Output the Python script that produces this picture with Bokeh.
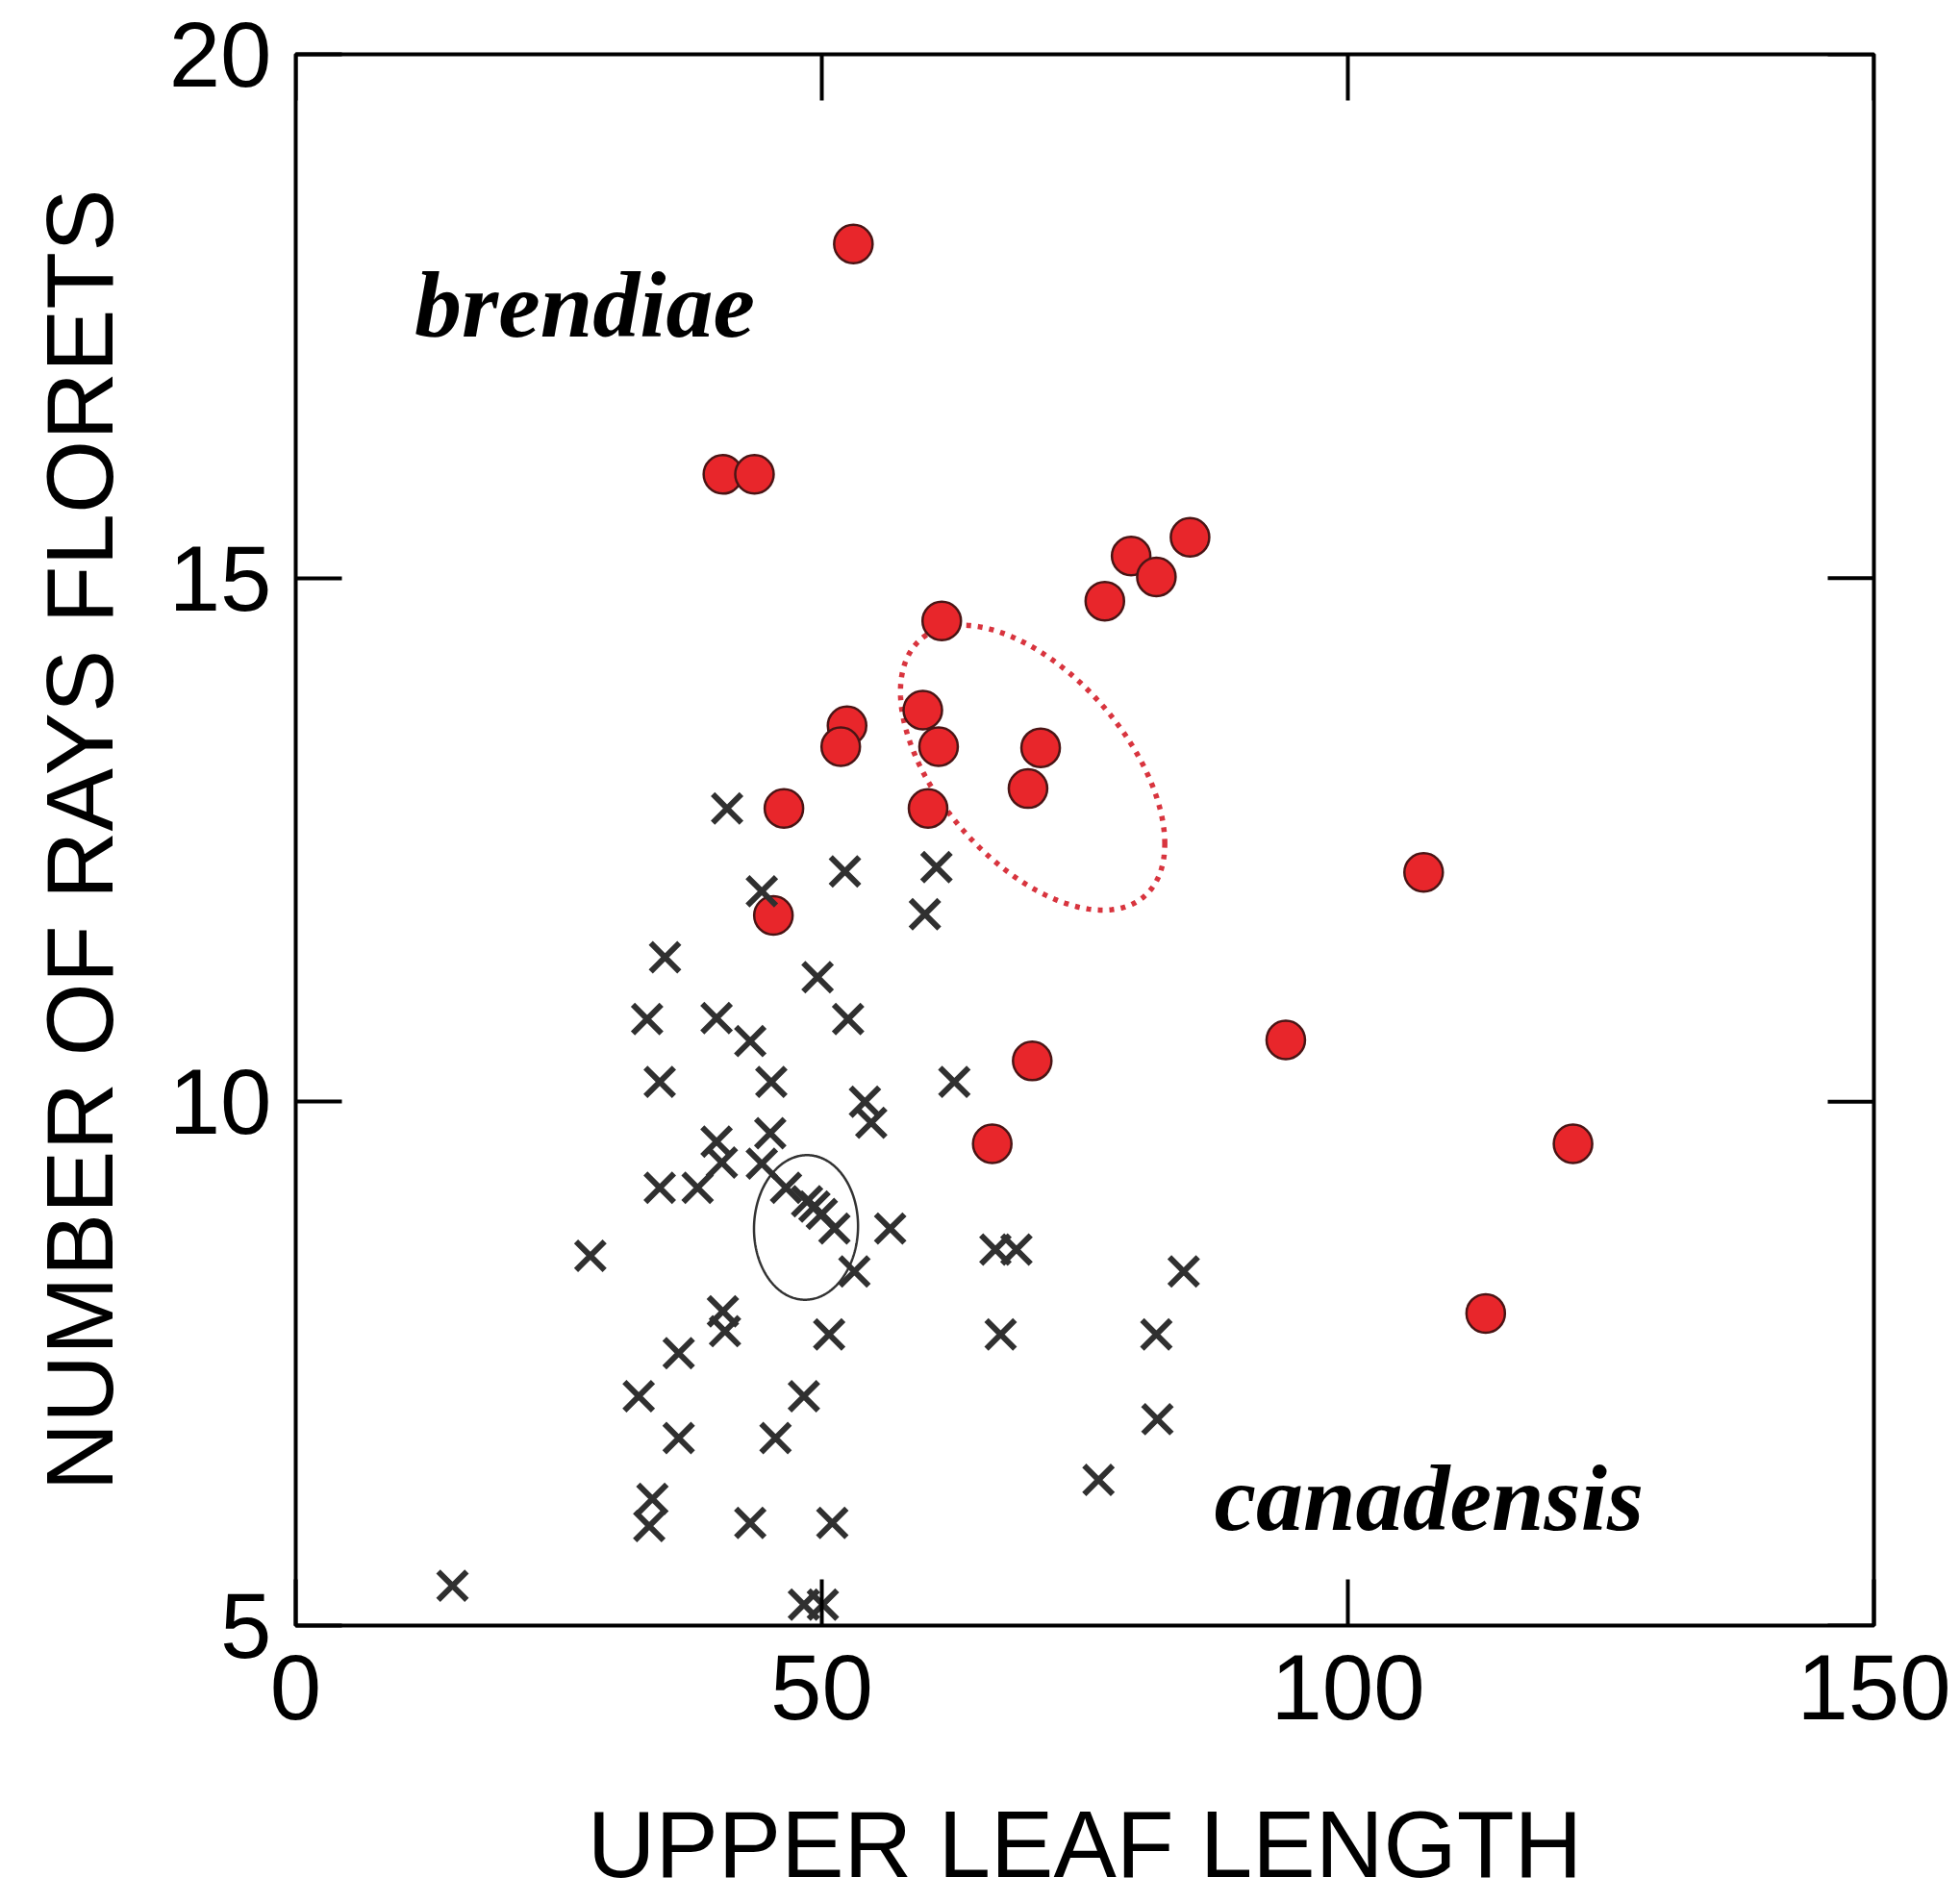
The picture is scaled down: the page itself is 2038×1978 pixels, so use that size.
import numpy as np
from bokeh.plotting import figure
from bokeh.models import Range1d, FixedTicker, Label
from bokeh.embed import file_html
from bokeh.resources import INLINE

# --- data: var. brendiae (red circles) ---
brendiae_x = [53.0, 40.6, 43.6, 85.0, 79.4, 81.8, 76.9, 61.4, 59.6, 52.4, 51.8, 61.1,
              70.8, 69.6, 60.1, 46.4, 107.2, 45.4, 94.1, 70.0, 66.2, 121.4, 113.1]
brendiae_y = [18.19, 15.99, 15.99, 15.39, 15.21, 15.01, 14.78, 14.59, 13.74, 13.59, 13.39, 13.39,
              13.38, 12.99, 12.80, 12.80, 12.19, 11.78, 10.59, 10.39, 9.60, 9.60, 7.98]

# --- data: var. canadensis (crosses) ---
canadensis_x = [41.0, 52.2, 60.9, 44.3, 59.8, 35.1, 49.6, 33.4, 40.0, 52.5,
                43.2, 34.6, 45.2, 62.6, 54.1, 54.7, 40.0, 40.5, 45.1, 44.3,
                34.6, 38.2, 46.6, 48.6, 49.3, 50.0, 51.2, 53.1, 56.5, 28.0,
                40.6, 40.8, 50.7, 36.4, 32.6, 48.3, 36.4, 45.6, 33.9, 33.6,
                43.2, 51.0, 14.9, 48.3, 50.1, 66.5, 68.5, 84.4, 67.0, 81.8,
                81.9, 76.3]
canadensis_y = [12.80, 12.20, 12.24, 12.01, 11.79, 11.38, 11.19, 10.79, 10.80, 10.79,
                10.58, 10.19, 10.19, 10.19, 10.00, 9.80, 9.62, 9.42, 9.70, 9.41,
                9.18, 9.18, 9.18, 9.05, 9.00, 8.93, 8.79, 8.38, 8.79, 8.53,
                8.00, 7.81, 7.78, 7.60, 7.19, 7.19, 6.79, 6.79, 6.21, 5.95,
                5.98, 5.98, 5.38, 5.20, 5.20, 8.59, 8.59, 8.38, 7.78, 7.78,
                6.97, 6.39]

x_ticks = [0, 50, 100, 150]
y_ticks = [5, 10, 15, 20]
x_title = "UPPER LEAF LENGTH"
y_title = "NUMBER OF RAYS FLORETS"
group_labels = ["brendiae", "canadensis"]
group_label_x = [11.3, 87.3]
group_label_y = [17.61, 6.22]


def mean_conf_ellipse(xs, ys, p=0.95, npts=400):
    """95% confidence ellipse of the bivariate mean (Hotelling T^2)."""
    X = np.column_stack([xs, ys]).astype(float)
    n = len(X)
    m = X.mean(axis=0)
    C = np.cov(X.T)
    d2 = n - 2
    f = (d2 / 2.0) * ((1 - p) ** (-2.0 / d2) - 1.0)  # F quantile, df1 = 2
    k = np.sqrt(2.0 * (n - 1) / d2 * f)
    L = np.linalg.cholesky(C / n)
    t = np.linspace(0, 2 * np.pi, npts)
    pts = m[:, None] + k * (L @ np.vstack([np.cos(t), np.sin(t)]))
    return pts[0], pts[1]


x_min, x_max = x_ticks[0], x_ticks[-1]
y_min, y_max = y_ticks[0], y_ticks[-1]

p = figure(width=2038, height=1978, output_backend="svg", toolbar_location=None,
           x_range=Range1d(x_min, x_max), y_range=Range1d(y_min, y_max),
           min_border_left=307, min_border_right=90, min_border_top=56,
           min_border_bottom=288, background_fill_color="white",
           border_fill_color="white")
p.grid.visible = False
p.outline_line_color = "black"
p.outline_line_width = 4

FONT = "Liberation Sans"
TICK_LEN = 48

for ax, ticks in ((p.xaxis[0], x_ticks), (p.yaxis[0], y_ticks)):
    ax.ticker = FixedTicker(ticks=ticks)
    ax.axis_line_color = None
    ax.major_tick_in = TICK_LEN
    ax.major_tick_out = 0
    ax.minor_tick_in = 0
    ax.minor_tick_out = 0
    ax.major_tick_line_width = 4
    ax.major_tick_line_color = "black"
    ax.major_label_text_font = FONT
    ax.major_label_text_font_size = "96px"
    ax.major_label_text_color = "black"
    ax.axis_label_text_font = FONT
    ax.axis_label_text_font_size = "98px"
    ax.axis_label_text_font_style = "normal"
    ax.axis_label_text_color = "black"

p.xaxis[0].axis_label = x_title
p.xaxis[0].major_label_standoff = 30
p.xaxis[0].axis_label_standoff = 72
p.yaxis[0].axis_label = y_title
p.yaxis[0].major_label_standoff = 25
p.yaxis[0].axis_label_standoff = 35

# mirrored inward ticks on the top and right frame edges
p.ray(x=x_ticks, y=[y_max] * len(x_ticks), length=TICK_LEN, length_units="screen",
      angle=-np.pi / 2, line_color="black", line_width=4)
p.ray(x=[x_max] * len(y_ticks), y=y_ticks, length=TICK_LEN, length_units="screen",
      angle=np.pi, line_color="black", line_width=4)

# confidence ellipses
ex, ey = mean_conf_ellipse(brendiae_x, brendiae_y)
p.line(ex, ey, line_color="#d8343e", line_width=5.5, line_dash="5 7")
ex2, ey2 = mean_conf_ellipse(canadensis_x, canadensis_y)
p.line(ex2, ey2, line_color="#333333", line_width=2.5)

# points
p.scatter(brendiae_x, brendiae_y, marker="circle", size=40,
          fill_color="#e8262b", line_color="#4a1515", line_width=2.5)
p.scatter(canadensis_x, canadensis_y, marker="x", size=42,
          line_color="#303030", line_width=6)

# group labels
for txt, lx, ly in zip(group_labels, group_label_x, group_label_y):
    p.add_layout(Label(x=lx, y=ly, text=txt, text_font="Liberation Serif",
                       text_font_style="bold italic", text_font_size="98px",
                       text_color="black", text_baseline="alphabetic",
                       text_align="left"))

open("out.html", "w").write(file_html(p, INLINE))
